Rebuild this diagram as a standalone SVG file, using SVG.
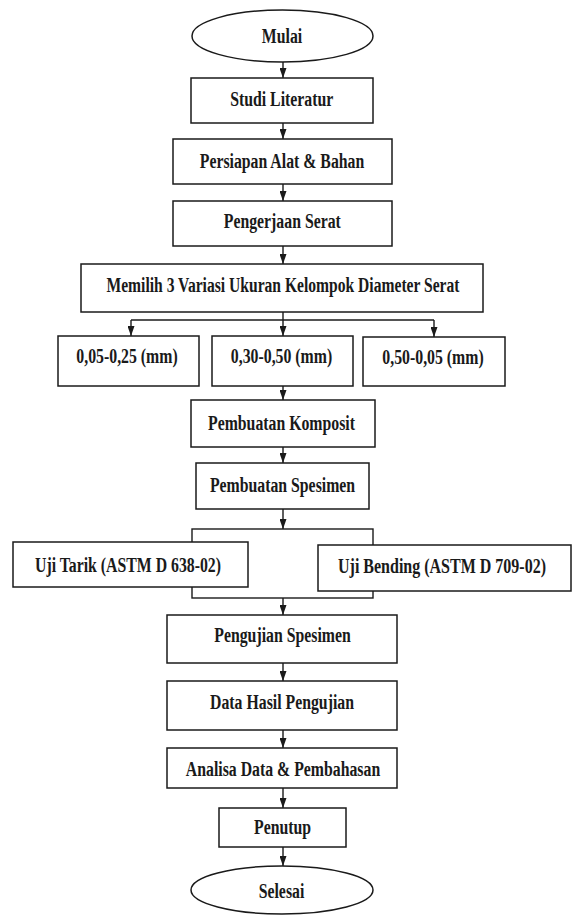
<svg xmlns="http://www.w3.org/2000/svg" width="572" height="915" viewBox="0 0 572 915">
<style>
.box{fill:#fff;stroke:#1a1a1a;stroke-width:1.5}
.ln{fill:none;stroke:#1a1a1a;stroke-width:1.4}
.t{font-family:"Liberation Serif","Times New Roman",serif;font-weight:bold;font-size:20px;fill:#1a1a1a;text-anchor:middle}
</style>
<defs>
<marker id="ah" viewBox="0 0 10 7" refX="10" refY="3.5" markerWidth="10" markerHeight="7" markerUnits="userSpaceOnUse" orient="auto">
<path d="M0,0 L10,3.5 L0,7 z" fill="#1a1a1a"/>
</marker>
</defs>
<rect width="572" height="915" fill="#fff"/>
<g id="connectors">
<line class="ln" x1="283" y1="62" x2="283" y2="78" marker-end="url(#ah)"/>
<line class="ln" x1="283" y1="123" x2="283" y2="139" marker-end="url(#ah)"/>
<line class="ln" x1="283" y1="184" x2="283" y2="201" marker-end="url(#ah)"/>
<line class="ln" x1="283" y1="246" x2="283" y2="264" marker-end="url(#ah)"/>
<line class="ln" x1="283" y1="312" x2="283" y2="320"/>
<line class="ln" x1="131" y1="320" x2="434" y2="320"/>
<line class="ln" x1="131" y1="320" x2="131" y2="336" marker-end="url(#ah)"/>
<line class="ln" x1="283" y1="320" x2="283" y2="336" marker-end="url(#ah)"/>
<line class="ln" x1="434" y1="320" x2="434" y2="337" marker-end="url(#ah)"/>
<line class="ln" x1="283" y1="386" x2="283" y2="400" marker-end="url(#ah)"/>
<line class="ln" x1="283" y1="447" x2="283" y2="463" marker-end="url(#ah)"/>
<line class="ln" x1="283" y1="509" x2="283" y2="529" marker-end="url(#ah)"/>
<rect class="ln" x="192" y="529" width="181" height="69"/>
<line class="ln" x1="283" y1="598" x2="283" y2="615" marker-end="url(#ah)"/>
<line class="ln" x1="283" y1="663" x2="283" y2="681" marker-end="url(#ah)"/>
<line class="ln" x1="283" y1="730" x2="283" y2="748" marker-end="url(#ah)"/>
<line class="ln" x1="283" y1="788" x2="283" y2="808" marker-end="url(#ah)"/>
<line class="ln" x1="283" y1="847" x2="283" y2="866" marker-end="url(#ah)"/>
</g>
<g id="mulai"><ellipse class="box" cx="282.5" cy="36" rx="90.5" ry="26"/><text class="t" transform="translate(282,42.7) scale(0.79,1)">Mulai</text></g>
<g id="studi"><rect class="box" x="191" y="78" width="182" height="45"/><text class="t" transform="translate(281.7,106) scale(0.79,1)">Studi Literatur</text></g>
<g id="persiapan"><rect class="box" x="173" y="139" width="219" height="45"/><text class="t" transform="translate(282,168.3) scale(0.79,1)">Persiapan Alat &amp; Bahan</text></g>
<g id="pengerjaan"><rect class="box" x="173" y="201" width="219" height="45"/><text class="t" transform="translate(282.3,228.3) scale(0.79,1)">Pengerjaan Serat</text></g>
<g id="memilih"><rect class="box" x="81" y="264" width="402" height="48"/><text class="t" transform="translate(283,291.7) scale(0.78,1)">Memilih 3 Variasi Ukuran Kelompok Diameter Serat</text></g>
<g id="ukuran1"><rect class="box" x="58" y="336" width="141" height="50"/><text class="t" transform="translate(127,363.3) scale(0.79,1)">0,05-0,25 (mm)</text></g>
<g id="ukuran2"><rect class="box" x="212" y="336" width="141" height="50"/><text class="t" transform="translate(281.5,363.3) scale(0.79,1)">0,30-0,50 (mm)</text></g>
<g id="ukuran3"><rect class="box" x="363" y="337" width="142" height="49"/><text class="t" transform="translate(433,363.5) scale(0.79,1)">0,50-0,05 (mm)</text></g>
<g id="komposit"><rect class="box" x="191" y="400" width="184" height="47"/><text class="t" transform="translate(281.5,430) scale(0.79,1)">Pembuatan Komposit</text></g>
<g id="spesimen"><rect class="box" x="196" y="463" width="173" height="46"/><text class="t" transform="translate(282.5,491.7) scale(0.79,1)">Pembuatan Spesimen</text></g>
<g id="ujitarik"><rect class="box" x="13" y="542" width="235" height="45"/><text class="t" transform="translate(128,571.7) scale(0.79,1)">Uji Tarik (ASTM D 638-02)</text></g>
<g id="ujibending"><rect class="box" x="318" y="545" width="253" height="46"/><text class="t" transform="translate(442,573.3) scale(0.8,1)">Uji Bending (ASTM D 709-02)</text></g>
<g id="pengujian"><rect class="box" x="167" y="615" width="230" height="48"/><text class="t" transform="translate(282.5,642) scale(0.79,1)">Pengujian Spesimen</text></g>
<g id="datahasil"><rect class="box" x="167" y="681" width="230" height="49"/><text class="t" transform="translate(282,709.3) scale(0.79,1)">Data Hasil Pengujian</text></g>
<g id="analisa"><rect class="box" x="167" y="748" width="230" height="40"/><text class="t" transform="translate(283,775.7) scale(0.79,1)">Analisa Data &amp; Pembahasan</text></g>
<g id="penutup"><rect class="box" x="219" y="808" width="127" height="39"/><text class="t" transform="translate(282.5,834) scale(0.79,1)">Penutup</text></g>
<g id="selesai"><ellipse class="box" cx="282" cy="890" rx="91" ry="24"/><text class="t" transform="translate(281.5,897.7) scale(0.79,1)">Selesai</text></g>
</svg>
